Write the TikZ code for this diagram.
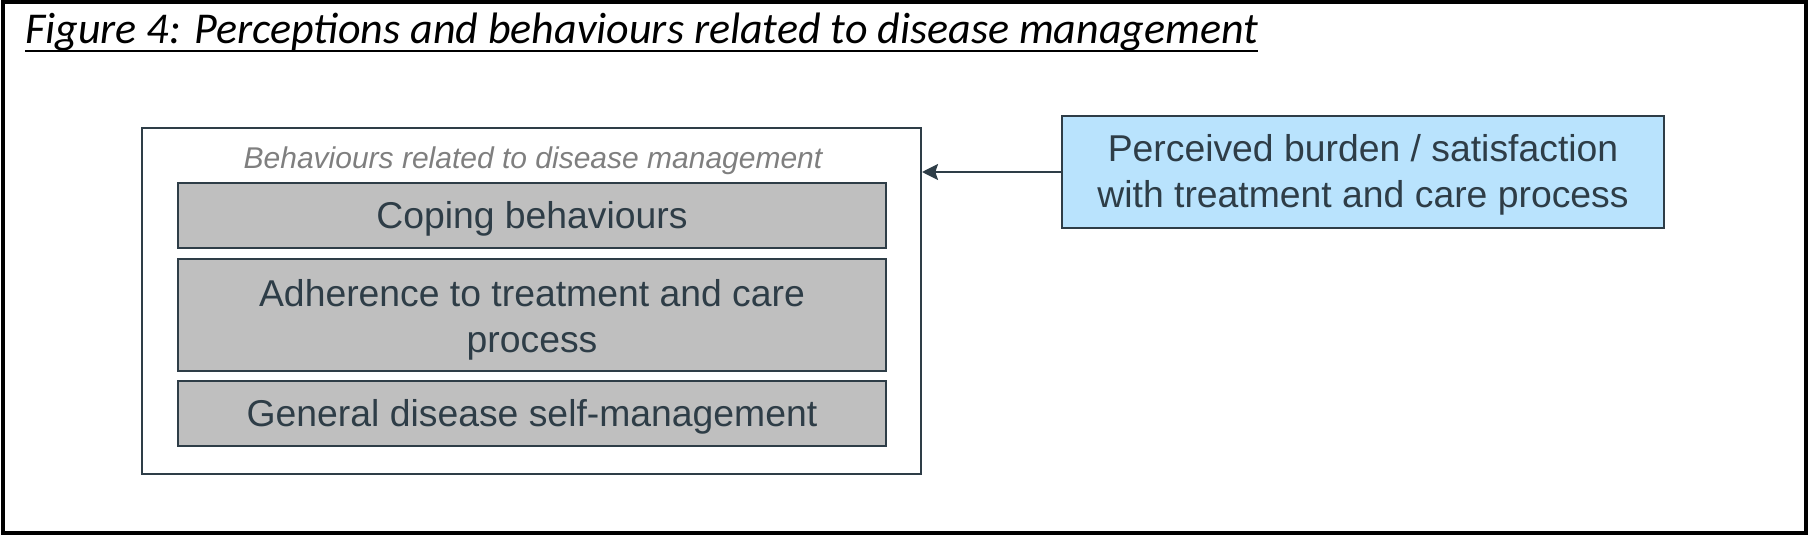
\documentclass[tikz,border=0pt]{standalone}
\usepackage{fontspec}
\setmainfont{Liberation Sans}
\newfontfamily\titlefont{Carlito}
\usetikzlibrary{arrows.meta}
\definecolor{slate}{HTML}{2E3D47}
\definecolor{boxgray}{HTML}{BFBFBF}
\definecolor{skyfill}{HTML}{B9E3FD}
\definecolor{labelgray}{HTML}{7F7F7F}
\tikzset{
  boxtext/.style={align=center, text=slate, font=\fontsize{28}{34}\selectfont, inner sep=0pt},
  graybox/.style={draw=slate, line width=1.5pt, fill=boxgray, minimum width=531pt, inner sep=0pt},
  bluebox/.style={draw=slate, line width=1.5pt, fill=skyfill, minimum width=451.5pt, minimum height=84pt, inner sep=0pt},
  groupframe/.style={draw=slate, line width=1.5pt, minimum width=584.25pt, minimum height=259.5pt, inner sep=0pt},
  connector/.style={draw=slate, line width=1.5pt, -{Stealth[length=12pt, width=12pt, inset=2pt]}},
}
\begin{document}
\begin{tikzpicture}[x=0.75pt, y=-0.75pt]
\useasboundingbox (0,0) rectangle (1812,538);
\node[draw=black, line width=2.6pt, minimum width=1352pt, minimum height=398.25pt, inner sep=0pt] (outer) at (904.5,267.5) {};
\node[anchor=base west, inner sep=0pt, font=\titlefont\itshape\fontsize{33}{38}\selectfont] (title) at (25,44) {Figure 4: Perceptions and behaviours related to disease management};
\draw[line width=1.6pt] ([yshift=-5pt]title.base west) -- ([yshift=-5pt]title.base east);
\node[groupframe] (frame) at (531.5,301) {};
\node[font=\itshape\fontsize{22.5}{27}\selectfont, text=labelgray, inner sep=0pt] (label) at (533,160.5) {Behaviours related to disease management};
\node[graybox, minimum height=48.75pt] (coping) at (532,215.5) {};
\node[boxtext] (copingtext) at (532,218.5) {Coping behaviours};
\node[graybox, minimum height=84pt] (adherence) at (532,315) {};
\node[boxtext] (adherencetext) at (532,320) {Adherence to treatment and care\\process};
\node[graybox, minimum height=48.75pt] (general) at (532,413.5) {};
\node[boxtext] (generaltext) at (532,416.5) {General disease self-management};
\node[bluebox] (burden) at (1363,172) {};
\node[boxtext] (burdentext) at (1363,175) {Perceived burden / satisfaction\\with treatment and care process};
\draw[connector] (burden.west) -- (burden.west -| frame.east);
\end{tikzpicture}
\end{document}
